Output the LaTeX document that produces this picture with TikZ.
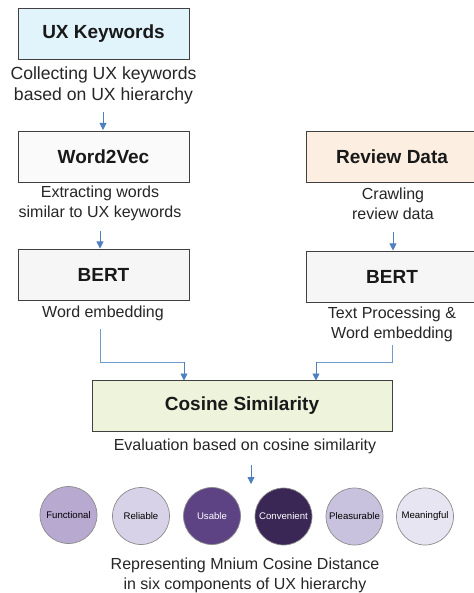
\documentclass[tikz,border=0pt]{standalone}
\usepackage{fontspec}
\setmainfont{Liberation Sans}
\usetikzlibrary{arrows.meta}
\definecolor{uxblue}{HTML}{E1F4FB}
\definecolor{revorange}{HTML}{FCEFE1}
\definecolor{bertgray}{HTML}{F6F6F6}
\definecolor{w2vwhite}{HTML}{FAFAFA}
\definecolor{cosgreen}{HTML}{EEF3DC}
\definecolor{flowblue}{HTML}{4F7FBE}
\definecolor{captxt}{HTML}{262626}
\definecolor{cFunc}{HTML}{B8A9D1}
\definecolor{cRel}{HTML}{D8D2E8}
\definecolor{cUse}{HTML}{5D4384}
\definecolor{cConv}{HTML}{3A2756}
\definecolor{cPleas}{HTML}{C9C2DF}
\definecolor{cMean}{HTML}{E8E5F3}
\tikzset{
  stagebox/.style={draw=black!75, line width=0.8pt, inner sep=0pt,
    font=\fontsize{19}{22}\selectfont\bfseries, text=black!90},
  caption/.style={align=center, text=captxt, font=\fontsize{16}{20}\selectfont, inner sep=0pt},
  flow/.style={draw=flowblue, line width=0.9pt, -{Triangle[width=7pt,length=7pt]}},
  flowline/.style={draw=flowblue!80, line width=0.9pt},
  uxcircle/.style={circle, draw=black!45, line width=0.7pt, minimum size=57pt, inner sep=0pt,
    font=\fontsize{9.6}{11}\selectfont},
}
\begin{document}
\begin{tikzpicture}[x=1pt, y=-1pt]
\useasboundingbox (0,0) rectangle (473,593);
\fill[white] (0,0) rectangle (473,593);

% left column
\node[stagebox, fill=uxblue, minimum width=171pt, minimum height=51pt] (ux) at (103.5,33.5) {UX Keywords};
\node[caption, font=\fontsize{17.6}{21}\selectfont] (uxcap) at (103.5,85) {Collecting UX keywords\\based on UX hierarchy};
\node[stagebox, fill=w2vwhite, minimum width=171pt, minimum height=51pt] (w2v) at (103.5,156.5) {Word2Vec};
\node[caption] (w2vcap) at (100,203) {Extracting words\\similar to UX keywords};
\node[stagebox, fill=bertgray, minimum width=171pt, minimum height=51pt] (bertl) at (103.5,274.5) {BERT};
\node[caption] (bertlcap) at (103,313) {Word embedding};

% right column
\node[stagebox, fill=revorange, minimum width=172pt, minimum height=51pt] (rev) at (392,156.5) {Review Data};
\node[caption] (revcap) at (393,204) {Crawling\\review data};
\node[stagebox, fill=bertgray, minimum width=172pt, minimum height=51pt] (bertr) at (392,276.5) {BERT};
\node[caption] (bertrcap) at (392,324.5) {Text Processing \&\\Word embedding};

% merge
\node[stagebox, fill=cosgreen, minimum width=300pt, minimum height=51pt] (cos) at (242,406) {Cosine Similarity};
\node[caption] (coscap) at (245,446) {Evaluation based on cosine similarity};

% UX components
\node[uxcircle, fill=cFunc] (func) at (68.5,515) {Functional};
\node[uxcircle, fill=cRel] (rel) at (141,516) {Reliable};
\node[uxcircle, fill=cUse, text=white] (use) at (212,516) {Usable};
\node[uxcircle, fill=cConv, text=white] (conv) at (283.5,516.5) {Convenient};
\node[uxcircle, fill=cPleas] (pleas) at (354.5,516.5) {Pleasurable};
\node[uxcircle, fill=cMean] (mean) at (425,516.5) {Meaningful};
\node[caption] (final) at (245,575.5) {Representing Mnium Cosine Distance\\in six components of UX hierarchy};

% flow arrows
\coordinate (a1s) at (103,112);
\coordinate (a1e) at (103,130);
\draw[flow] (a1s) -- (a1e);
\coordinate (a2s) at (100,231);
\coordinate (a2e) at (100,248.5);
\draw[flow] (a2s) -- (a2e);
\coordinate (a3s) at (393,232);
\coordinate (a3e) at (393,250.5);
\draw[flow] (a3s) -- (a3e);

\coordinate (l0) at (100,329);
\coordinate (l1) at (100,362);
\coordinate (l2) at (184,362);
\coordinate (l3) at (184,380.5);
\draw[flowline] (l0) -- (l1) -- (l2);
\draw[flow] (l2) -- (l3);

\coordinate (r0) at (392,345);
\coordinate (r1) at (392,362);
\coordinate (r2) at (316,362);
\coordinate (r3) at (316,380.5);
\draw[flowline] (r0) -- (r1) -- (r2);
\draw[flow] (r2) -- (r3);

\coordinate (a4s) at (251,465);
\coordinate (a4e) at (251,484);
\draw[flow] (a4s) -- (a4e);
\end{tikzpicture}
\end{document}
